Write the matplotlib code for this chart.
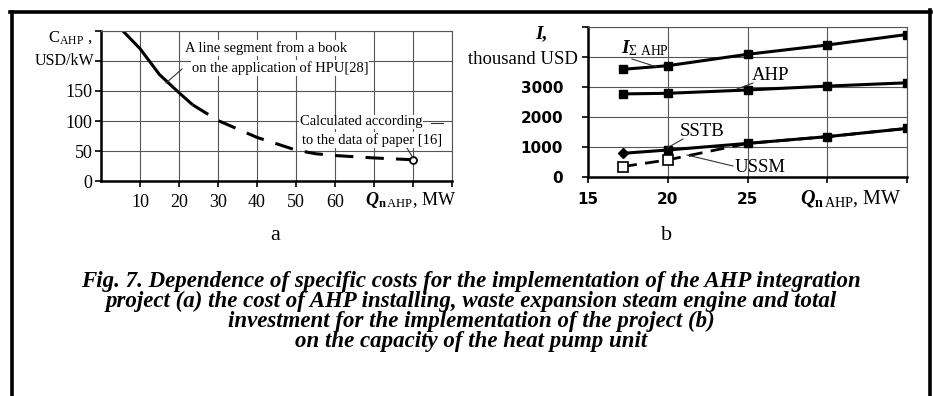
import matplotlib
matplotlib.use("Agg")
import matplotlib.pyplot as plt
from matplotlib.lines import Line2D

plt.rcParams['font.family'] = ['Liberation Serif', 'DejaVu Serif']
plt.rcParams['mathtext.fontset'] = 'custom'
plt.rcParams['mathtext.rm'] = 'Liberation Serif'
plt.rcParams['mathtext.it'] = 'Liberation Serif:italic'
plt.rcParams['mathtext.bf'] = 'Liberation Serif:bold'
plt.rcParams['mathtext.bfit'] = 'Liberation Serif:bold:italic'

# ---------------- data ----------------
# (a) specific cost of AHP, USD/kW
cost_book_q = [5.5, 10, 15, 20, 23.5]
cost_book_v = [250, 220, 177, 147, 127]
cost_calc_q = [23.5, 30, 40, 50, 55, 60, 70, 80, 83]
cost_calc_v = [127, 101, 73, 52, 46, 43, 39, 36, 35]
paper_point_q = [80]
paper_point_v = [36]

# (b) investments, thousand USD
cap = [17.2, 20, 25, 30, 35]
i_total = [3590, 3710, 4090, 4400, 4750]
i_ahp = [2770, 2790, 2900, 3030, 3140]
i_sstb = [790, 900, 1120, 1345, 1620]
i_ussm = [350, 570, 1120, 1345, 1620]

xticks_a = [10, 20, 30, 40, 50, 60, 70, 80, 90]
xlabels_a = ['10', '20', '30', '40', '50', '60', '', '', '']
yticks_a = [0, 50, 100, 150, 200, 250]
ylabels_a = ['0', '50', '100', '150', '', '']
xticks_b = [15, 20, 25, 30, 35]
xlabels_b = ['15', '20', '25', '', '']
yticks_b = [0, 1000, 2000, 3000, 4000, 5000]
ylabels_b = ['0', '1000', '2000', '3000', '', '']

caption = [
    "Fig. 7. Dependence of specific costs for the implementation of the AHP integration",
    "project (a) the cost of AHP installing, waste expansion steam engine and total",
    "investment for the implementation of the project (b)",
    "on the capacity of the heat pump unit",
]

# ---------------- figure ----------------
W, H = 933, 396
fig = plt.figure(figsize=(W / 100, H / 100), dpi=100)


def fx(px):
    return px / W


def fy(py):
    return 1 - py / H


def pline(x0, y0, x1, y1, lw=0.8, color='#333333'):
    fig.add_artist(Line2D([fx(x0), fx(x1)], [fy(y0), fy(y1)], lw=lw, color=color,
                          transform=fig.transFigure))


GRID = '#555555'

# ---------- panel a ----------
ax1 = fig.add_axes([fx(101), fy(181.5), fx(452) - fx(101), fy(30.5) - fy(181.5)])
ax1.set_xlim(0, 90)
ax1.set_ylim(0, 250)
ax1.set_xticks(xticks_a)
ax1.set_xticklabels(xlabels_a)
ax1.set_yticks(yticks_a)
ax1.set_yticklabels(ylabels_a)
ax1.grid(True, color=GRID, lw=0.8)
for s in ['top', 'right']:
    ax1.spines[s].set_color(GRID)
    ax1.spines[s].set_linewidth(0.8)
for s in ['left', 'bottom']:
    ax1.spines[s].set_linewidth(1.8)
ax1.tick_params(direction='out', length=4, width=1.2, labelsize=13, pad=2)
ax1.tick_params(axis='x', pad=5)

ax1.plot(cost_book_q, cost_book_v, color='black', lw=2.2, solid_capstyle='butt')
ax1.plot(cost_calc_q, cost_calc_v, color='black', lw=2.2, dashes=(6, 4))
ax1.plot(paper_point_q, paper_point_v, 'o', ms=5, mfc='white', mec='black', mew=1.3)

ta = dict(fontsize=10.5, color='black', ha='left', va='center',
          bbox=dict(facecolor='white', edgecolor='none', pad=0.5))
fig.text(fx(185), fy(48), "A line segment from a book", **ta)
fig.text(fx(192), fy(68), "on the application of HPU[28]", **ta)
pline(182, 69, 166, 83)
fig.text(fx(300), fy(122), "Calculated according", **ta)
fig.text(fx(302), fy(140), "to the data of paper [16]", **ta)
pline(431, 123, 443, 123)
pline(407, 148, 413, 158)

fig.text(fx(70), fy(38), r"C$_{\rm AHP}$ ,", fontsize=12, ha='center', va='center')
fig.text(fx(65), fy(61), "USD/kW", fontsize=11.5, ha='center', va='center')
fig.text(fx(411), fy(200), r"$\mathbfit{Q}_{\mathbf{n}\,\mathrm{AHP}}$, MW", fontsize=13,
         ha='center', va='center')
fig.text(fx(275), fy(236), "a", fontsize=16, ha='center', va='center')

# ---------- panel b ----------
ax2 = fig.add_axes([fx(588), fy(177), fx(907) - fx(588), fy(27) - fy(177)])
ax2.set_xlim(15, 35)
ax2.set_ylim(0, 5000)
ax2.set_xticks(xticks_b)
ax2.set_xticklabels(xlabels_b)
ax2.set_yticks(yticks_b)
ax2.set_yticklabels(ylabels_b)
ax2.grid(True, color=GRID, lw=0.8)
for s in ['top', 'right']:
    ax2.spines[s].set_color(GRID)
    ax2.spines[s].set_linewidth(0.8)
for s in ['left', 'bottom']:
    ax2.spines[s].set_linewidth(1.8)
ax2.tick_params(direction='out', length=4, width=1.2, labelsize=11)
for lab in ax2.get_xticklabels() + ax2.get_yticklabels():
    lab.set_fontfamily('DejaVu Sans')
    lab.set_fontweight('bold')
ax2.tick_params(axis='y', pad=14)
ax2.tick_params(axis='x', pad=7)

ax2.plot(cap, i_total, '-s', color='black', lw=2.2, ms=5.5)
ax2.plot(cap, i_ahp, '-s', color='black', lw=2.2, ms=5.5)
ax2.plot(cap, i_sstb, '-s', color='black', lw=2.2, ms=5.5, markevery=[1, 2, 3, 4])
ax2.plot(cap[:1], i_sstb[:1], 'D', color='black', ms=5)
ax2.plot(cap, i_ussm, color='black', lw=2.0, dashes=(5, 3))
ax2.plot(cap[:2], i_ussm[:2], 's', ms=6.5, mfc='white', mec='black', mew=1.2)

fig.text(fx(541), fy(34), "I,", fontsize=14, fontweight='bold', style='italic',
         ha='center', va='center')
fig.text(fx(523), fy(59), "thousand USD", fontsize=13.5, ha='center', va='center')
fig.text(fx(645), fy(48), r"$\mathbfit{I}_{\Sigma\ \mathrm{AHP}}$", fontsize=14,
         ha='center', va='center')
pline(632, 59, 657, 67)
fig.text(fx(771), fy(75), "AHP", fontsize=13.5, ha='center', va='center')
pline(753, 83, 737, 89)
fig.text(fx(702), fy(132), "SSTB", fontsize=13.5, ha='center', va='center')
pline(683, 139, 667, 148)
fig.text(fx(760), fy(167), "USSM", fontsize=13.5, ha='center', va='center')
pline(733, 166, 687, 155)
fig.text(fx(851), fy(199), r"$\mathbfit{Q}_{\mathbf{n}\,\mathrm{AHP}}$, MW", fontsize=14.5,
         ha='center', va='center')
fig.text(fx(667), fy(236), "b", fontsize=16, ha='center', va='center')

# ---------- caption ----------
for line, y in zip(caption, [281, 301, 321, 341]):
    fig.text(fx(471), fy(y), line, fontsize=16.5, fontweight='bold', style='italic',
             ha='center', va='center')

# ---------- border ----------
bw = 2.6
pline(11.5, 11.5, 11.5, 400, lw=bw, color='black')
pline(10, 11.5, 931, 11.5, lw=bw, color='black')
pline(929.5, 10, 929.5, 400, lw=bw, color='black')

fig.savefig("out.png", dpi=100)
